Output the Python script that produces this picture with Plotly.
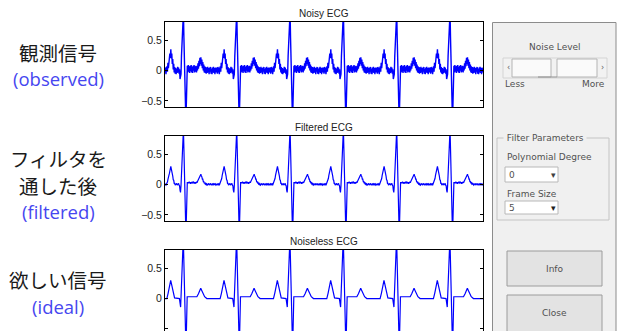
import numpy as np
import plotly.graph_objects as go

W, H = 623, 331

# ---------------- data ----------------
beat_starts = [-12, 428, 868, 1308, 1748, 2188]
x_range = [0, 2624]
sample_step = 4

# noiseless beat template (breakpoints, beat-relative sample index)
ideal_t = [0, 27, 38, 48, 59, 70, 80, 91, 131, 141, 163, 185, 195, 275,
           288, 298, 307, 316, 326, 339, 357, 440]
ideal_v = [0, 0.0, 0.09, 0.2, 0.30, 0.2, 0.09, 0.01, 0.0, -0.14, 1.0, -0.85,
           0.03, 0.03, 0.08, 0.13, 0.17, 0.13, 0.08, 0.03, 0.0, 0.0]

# noisy beat, one value every 4 samples
noisy_v = [0.04, -0.05, 0.06, -0.03, 0.05, -0.06, 0.03, 0.07, -0.02, 0.13,
           0.04, 0.20, 0.12, 0.28, 0.21, 0.35, 0.20, 0.28, 0.11, 0.19,
           0.02, 0.11, -0.03, 0.06, -0.05, 0.04, -0.06, 0.03, -0.04, 0.06,
           -0.03, 0.05, -0.05, 0.02, -0.14, -0.10, -0.06, 0.24, 0.38, 0.68,
           0.82, 0.96, 0.54, 0.28, -0.13, -0.39, -0.82, -0.56, -0.27, 0.08,
           -0.03, 0.09, -0.02, 0.07, -0.04, 0.08, -0.01, 0.09, -0.03, 0.06,
           -0.04, 0.08, 0.00, 0.09, -0.03, 0.07, -0.02, 0.08, -0.03, 0.07,
           0.00, 0.12, 0.03, 0.16, 0.07, 0.21, 0.11, 0.22, 0.08, 0.18,
           0.04, 0.14, 0.00, 0.10, -0.03, 0.07, -0.04, 0.06, -0.05, 0.05,
           -0.04, 0.06, -0.03, 0.04, -0.06, 0.05, -0.02, 0.06, -0.05, 0.03,
           -0.06, 0.05, -0.03, 0.06, -0.04, 0.04, -0.06, 0.05, -0.03, 0.04]

# filtered beat, one value every 4 samples
filtered_v = [0.01, -0.01, 0.02, 0.00, 0.01, -0.01, 0.01, 0.02, 0.04, 0.08,
              0.10, 0.15, 0.18, 0.23, 0.27, 0.30, 0.26, 0.23, 0.17, 0.14,
              0.08, 0.07, 0.02, 0.02, -0.01, 0.01, 0.00, 0.02, -0.01, 0.01,
              0.00, 0.02, -0.01, -0.02, -0.09, -0.13, -0.02, 0.21, 0.41, 0.64,
              0.86, 0.91, 0.59, 0.23, -0.10, -0.42, -0.78, -0.59, -0.24, 0.04,
              0.02, 0.04, 0.02, 0.05, 0.02, 0.04, 0.01, 0.04, 0.02, 0.05,
              0.02, 0.03, 0.05, 0.02, 0.04, 0.01, 0.04, 0.02, 0.05, 0.03,
              0.05, 0.07, 0.08, 0.11, 0.13, 0.16, 0.16, 0.17, 0.14, 0.13,
              0.09, 0.09, 0.05, 0.05, 0.02, 0.03, 0.01, 0.02, 0.00, 0.01,
              -0.01, 0.01, 0.00, 0.02, -0.01, 0.01, 0.00, 0.02, -0.01, 0.01,
              -0.01, 0.02, 0.00, 0.01, -0.01, 0.02, 0.00, 0.01, -0.01, 0.01]

y_ticks = [-0.5, 0, 0.5]
y_tick_text = ["\u22120.5", "0", "0.5"]
panel_titles = ["Noisy ECG", "Filtered ECG", "Noiseless ECG"]
jp_labels = ["観測信号", "フィルタを", "通した後", "欲しい信号"]
en_labels = ["(observed)", "(filtered)", "(ideal)"]


def tile(t, v):
    xs, ys = [], []
    for s in beat_starts:
        xs += [s + ti for ti in t]
        ys += list(v)
    return xs, ys


series = [tile(list(np.arange(len(noisy_v)) * sample_step), noisy_v),
          tile(list(np.arange(len(filtered_v)) * sample_step), filtered_v),
          tile(ideal_t, ideal_v)]

# ---------------- layout helpers ----------------
def fx(p):
    return p / W


def fy(p):
    return 1 - p / H


panels = [(22, 107, [-0.6, 0.8]), (136, 221, [-0.6, 0.8]), (250, 331, [-0.534, 0.8])]
line_w = [1.4, 1.2, 1.2]

fig = go.Figure()
layout = dict(width=W, height=H, margin=dict(l=0, r=0, t=0, b=0),
              paper_bgcolor="white", plot_bgcolor="white", showlegend=False)

for i, ((top, bot, rng), (xs, ys)) in enumerate(zip(panels, series)):
    n = "" if i == 0 else str(i + 1)
    fig.add_trace(go.Scatter(x=xs, y=ys, mode="lines",
                             line=dict(color="#0000ff", width=line_w[i]),
                             xaxis="x" + n, yaxis="y" + n, hoverinfo="skip"))
    layout["xaxis" + n] = dict(domain=[fx(165), fx(483)], range=x_range,
                               anchor="y" + n, showline=True, linecolor="#000",
                               linewidth=1, mirror=(i < 2), ticks="",
                               showticklabels=False, showgrid=False,
                               zeroline=False, side="top" if i == 2 else "bottom")
    layout["yaxis" + n] = dict(domain=[fy(bot), fy(top)], range=rng,
                               anchor="x" + n, showline=True, linecolor="#000",
                               linewidth=1, mirror="ticks", ticks="inside",
                               ticklen=3, tickwidth=1, tickcolor="#000",
                               tickvals=y_ticks, ticktext=y_tick_text,
                               tickfont=dict(family="Liberation Sans, Arial", size=10.5,
                                             color="#222"),
                               showgrid=False, zeroline=False)

fig.update_layout(**layout)

ann = []
title_y = [14, 127, 241]
for t, yy in zip(panel_titles, title_y):
    ann.append(dict(x=fx(324), y=fy(yy), text=t, showarrow=False,
                    xref="paper", yref="paper", xanchor="center", yanchor="middle",
                    font=dict(family="Liberation Sans, Arial", size=10, color="#222")))

# left labels
jp_y = [52, 158.5, 185.5, 279.5]
for lab, yy in zip(jp_labels, jp_y):
    ann.append(dict(x=fx(58), y=fy(yy), text=lab, showarrow=False,
                    xref="paper", yref="paper", xanchor="center", yanchor="middle",
                    font=dict(family="Noto Sans CJK JP", size=19.5, color="#1a1a1a")))
en_y = [78.5, 211, 306]
for lab, yy in zip(en_labels, en_y):
    ann.append(dict(x=fx(58), y=fy(yy), text=lab, showarrow=False,
                    xref="paper", yref="paper", xanchor="center", yanchor="middle",
                    font=dict(family="Open Sans", size=18.5, color="#4646f0")))

# ---------------- GUI panel on the right ----------------
shapes = []


def rect(x0, y0, x1, y1, fill, line, lw=1):
    shapes.append(dict(type="rect", xref="paper", yref="paper",
                       x0=fx(x0), x1=fx(x1), y0=fy(y1), y1=fy(y0),
                       fillcolor=fill, line=dict(color=line, width=lw), layer="above"))


def hline(x0, x1, y, color):
    shapes.append(dict(type="line", xref="paper", yref="paper",
                       x0=fx(x0), x1=fx(x1), y0=fy(y), y1=fy(y),
                       line=dict(color=color, width=1), layer="above"))


gui_font = "DejaVu Sans"


def gtext(x, y, s, anchor="left", size=9, color="#505050", bg=None):
    d = dict(x=fx(x), y=fy(y), text=s, showarrow=False, xref="paper", yref="paper",
             xanchor=anchor, yanchor="middle",
             font=dict(family=gui_font, size=size, color=color))
    if bg:
        d["bgcolor"] = bg
        d["borderpad"] = 0
    ann.append(d)


rect(492.5, 22.5, 616, 340, "#f0f0f0", "#8c8c8c")
gtext(555, 47, "Noise Level", anchor="center")
rect(503, 58, 607, 78, "#f2f2f2", "#d4d4d4")
rect(512, 59, 551, 77, "#fafafa", "#b4b4b4")
rect(557, 59, 597, 77, "#fafafa", "#b4b4b4")
hline(538, 557, 77, "#909090")
gtext(508, 67, "\u2039", anchor="center", size=8, color="#606060")
gtext(602, 67, "\u203a", anchor="center", size=8, color="#606060")
gtext(503, 84, "Less")
gtext(607, 84, "More", anchor="right")

rect(497, 138, 609, 220, "rgba(0,0,0,0)", "#c4c4c4")
gtext(503, 138, " Filter Parameters ", bg="#f0f0f0")
gtext(505, 157, "Polynomial Degree")
rect(505, 167, 558, 182, "#ffffff", "#b8b8b8")
gtext(507, 174.5, "0")
gtext(553, 175, "\u25be", anchor="center", size=9, color="#404040")
gtext(505, 194, "Frame Size")
rect(505, 201, 558, 214, "#ffffff", "#b8b8b8")
gtext(507, 207.5, "5")
gtext(553, 208, "\u25be", anchor="center", size=9, color="#202020")

rect(507, 251, 602, 286, "#e3e3e3", "#9c9c9c")
gtext(554.5, 268.5, "Info", anchor="center")
rect(507, 295, 602, 340, "#e3e3e3", "#9c9c9c")
gtext(554.5, 313, "Close", anchor="center")

fig.update_layout(annotations=ann, shapes=shapes)
fig.write_html("out.html", config={"displayModeBar": False, "staticPlot": True})

# remove the default page margin so the figure sits at the window's corner
with open("out.html", encoding="utf-8") as f:
    page = f.read()
page = page.replace("<body>", "<body style=\"margin:0;overflow:hidden\">", 1)
page = page.replace("<head>", "<head><style>html,body{margin:0;padding:0;overflow:hidden}</style>", 1)
with open("out.html", "w", encoding="utf-8") as f:
    f.write(page)
